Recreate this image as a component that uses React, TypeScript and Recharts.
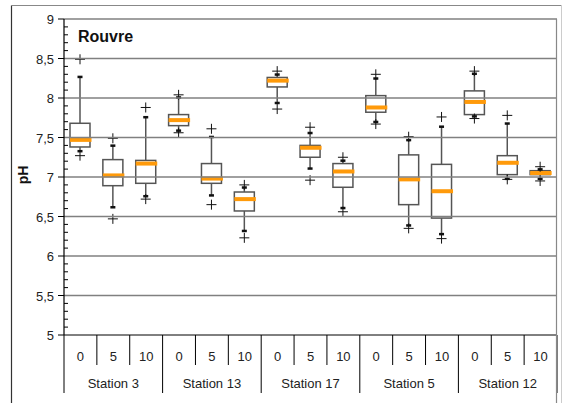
import React from 'react';
import { ComposedChart, Bar, XAxis, YAxis, ReferenceLine } from 'recharts';

const stations = ['Station 3', 'Station 13', 'Station 17', 'Station 5', 'Station 12'];
const depths = ['0', '5', '10'];

// one value per box, in order: S3 0/5/10, S13 0/5/10, S17 0/5/10, S5 0/5/10, S12 0/5/10
const outHigh = [8.49, 7.49, 7.88, 8.04, 7.61, 6.9, 8.34, 7.63, 7.25, 8.3, 7.51, 7.76, 8.34, 7.78, 7.13];
const whiskerHigh = [8.27, 7.4, 7.76, 8.01, 7.51, 6.87, 8.3, 7.56, 7.21, 8.25, 7.47, 7.64, 8.31, 7.68, 7.1];
const q3 = [7.68, 7.22, 7.21, 7.79, 7.17, 6.81, 8.26, 7.4, 7.17, 8.03, 7.28, 7.16, 8.09, 7.27, 7.08];
const median = [7.47, 7.02, 7.17, 7.72, 6.98, 6.72, 8.22, 7.37, 7.07, 7.88, 6.97, 6.82, 7.95, 7.18, 7.05];
const q1 = [7.38, 6.89, 6.92, 7.65, 6.92, 6.57, 8.14, 7.25, 6.87, 7.82, 6.65, 6.48, 7.79, 7.03, 7.03];
const whiskerLow = [7.33, 6.62, 6.76, 7.59, 6.77, 6.32, 7.94, 7.11, 6.61, 7.7, 6.39, 6.28, 7.77, 6.98, 6.98];
const outLow = [7.27, 6.47, 6.72, 7.56, 6.65, 6.23, 7.86, 6.96, 6.56, 7.67, 6.35, 6.22, 7.74, 6.97, 6.95];

const majorTicks = [5, 5.5, 6, 6.5, 7, 7.5, 8, 8.5, 9];
const gridValues = [5.5, 6, 6.5, 7, 7.5, 8, 8.5, 9];

const allTicks: number[] = [];
for (let i = 50; i <= 90; i++) allTicks.push(i / 10);

const data = stations.flatMap((s, si) =>
  depths.map((d, di) => {
    const i = si * 3 + di;
    return {
      key: `${s}-${d}`,
      station: s,
      depth: d,
      range: [outLow[i], outHigh[i]],
      outHigh: outHigh[i],
      whiskerHigh: whiskerHigh[i],
      q3: q3[i],
      median: median[i],
      q1: q1[i],
      whiskerLow: whiskerLow[i],
      outLow: outLow[i],
    };
  })
);

const W = 563;
const H = 403;
const PLOT_LEFT = 64;
const PLOT_RIGHT = 557;
const BAND = (PLOT_RIGHT - PLOT_LEFT) / data.length;
const FONT = '"Liberation Sans", Arial, sans-serif';

function BoxShape(props: any) {
  const { x, y, width, height, payload } = props;
  const hi = payload.outHigh;
  const lo = payload.outLow;
  const py = (v: number) => y + ((hi - v) / (hi - lo)) * height;
  const cx = x + width / 2;
  const plus = (v: number, k: string) => (
    <g key={k}>
      <line x1={cx - 5} x2={cx + 5} y1={py(v)} y2={py(v)} stroke="#111" strokeWidth={1} />
      <line x1={cx} x2={cx} y1={py(v) - 5} y2={py(v) + 5} stroke="#111" strokeWidth={1} />
    </g>
  );
  return (
    <g>
      <line x1={cx} x2={cx} y1={py(payload.whiskerHigh)} y2={py(payload.q3)} stroke="#555" strokeWidth={1.5} />
      <line x1={cx} x2={cx} y1={py(payload.q1)} y2={py(payload.whiskerLow)} stroke="#555" strokeWidth={1.5} />
      <rect
        x={x}
        y={py(payload.q3)}
        width={width}
        height={py(payload.q1) - py(payload.q3)}
        fill="#fff"
        stroke="#555"
        strokeWidth={1.5}
      />
      <rect x={x} y={py(payload.median) - 2} width={width + 1.5} height={4} fill="#ff9a0a" />
      <rect x={cx - 2.5} y={py(payload.whiskerHigh) - 1} width={5} height={2.5} fill="#111" />
      <rect x={cx - 2.5} y={py(payload.whiskerLow) - 1} width={5} height={2.5} fill="#111" />
      {plus(payload.outHigh, 'h')}
      {plus(payload.outLow, 'l')}
    </g>
  );
}

function XTick(props: any) {
  const { x, y, payload, index } = props;
  const left = x - BAND / 2;
  const right = x + BAND / 2;
  const d = data[index];
  const isGroupStart = index % 3 === 0;
  const isLast = index === data.length - 1;
  return (
    <g>
      <line x1={left} x2={left} y1={y} y2={isGroupStart ? y + 58 : y + 30} stroke="#000" strokeWidth={1} />
      {isLast && <line x1={right} x2={right} y1={y} y2={y + 58} stroke="#000" strokeWidth={1} />}
      <text x={x} y={y + 26} textAnchor="middle" fontSize={13} fill="#222" fontFamily={FONT}>
        {d ? d.depth : payload.value}
      </text>
      {index % 3 === 1 && (
        <text x={x} y={y + 53} textAnchor="middle" fontSize={13} fill="#222" fontFamily={FONT}>
          {d.station}
        </text>
      )}
    </g>
  );
}

function YTick(props: any) {
  const { x, y, payload } = props;
  const v = payload.value as number;
  const isMajor = majorTicks.some((m) => Math.abs(m - v) < 1e-6);
  if (isMajor) {
    return (
      <g>
        <line x1={x - 6} x2={x} y1={y} y2={y} stroke="#000" strokeWidth={1} />
        <text x={x - 10} y={y + 5} textAnchor="end" fontSize={13} fill="#222" fontFamily={FONT}>
          {String(Math.round(v * 10) / 10).replace('.', ',')}
        </text>
      </g>
    );
  }
  return <line x1={x} x2={x + 4} y1={y} y2={y} stroke="#000" strokeWidth={1} />;
}

export default function App() {
  return (
    <div style={{ position: 'absolute', left: 0, top: 0, width: W, height: H, background: '#fff' }}>
      <ComposedChart
        width={W}
        height={H}
        data={data}
        margin={{ top: 19, right: W - PLOT_RIGHT, left: 0, bottom: 0 }}
      >
        {gridValues.map((v) => (
          <ReferenceLine key={v} y={v} stroke="#808080" strokeWidth={1.5} />
        ))}
        <XAxis
          dataKey="key"
          height={68}
          interval={0}
          tickLine={false}
          tickSize={0}
          tickMargin={0}
          axisLine={{ stroke: '#000', strokeWidth: 1 }}
          tick={<XTick />}
        />
        <YAxis
          type="number"
          domain={[5, 9]}
          ticks={allTicks}
          interval={0}
          width={PLOT_LEFT}
          tickLine={false}
          tickSize={0}
          tickMargin={0}
          axisLine={{ stroke: '#000', strokeWidth: 1.2 }}
          tick={<YTick />}
          allowDataOverflow
        />
        <Bar dataKey="range" barSize={20} isAnimationActive={false} shape={<BoxShape />} />
      </ComposedChart>
      <svg
        width={W}
        height={H}
        style={{ position: 'absolute', left: 0, top: 0, pointerEvents: 'none' }}
      >
        <line x1={11.5} x2={11.5} y1={5.5} y2={H} stroke="#333" strokeWidth={1.2} />
        <line x1={11} x2={561.5} y1={5.5} y2={5.5} stroke="#888" strokeWidth={1.2} />
        <line x1={561.5} x2={561.5} y1={5} y2={H} stroke="#ccc" strokeWidth={1} />
        <line x1={PLOT_RIGHT - 0.5} x2={PLOT_RIGHT - 0.5} y1={19} y2={H} stroke="#888" strokeWidth={1.2} />
        <text x={78} y={42} fontSize={16} fontWeight="bold" fill="#111" fontFamily={FONT}>
          Rouvre
        </text>
        <text
          x={28}
          y={175}
          fontSize={14}
          fontWeight="bold"
          fill="#111"
          fontFamily={FONT}
          textAnchor="middle"
          transform="rotate(-90 28 175)"
        >
          pH
        </text>
      </svg>
    </div>
  );
}
